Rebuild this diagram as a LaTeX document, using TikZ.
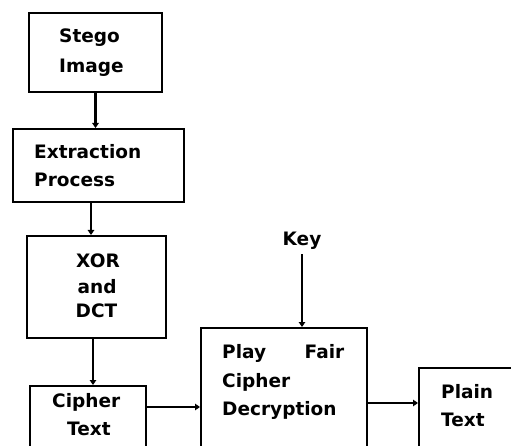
\documentclass[tikz,border=0pt]{standalone}
\usepackage{fontspec}
\setmainfont{DejaVu Sans}
\usetikzlibrary{arrows.meta,calc}

\tikzset{
  box/.style={draw=black, line width=2bp, fill=white, inner sep=0pt},
  txt/.style={anchor=base west, inner sep=0pt, font=\fontsize{18.5bp}{22bp}\selectfont\bfseries},
  arr/.style={draw=black, line width=2.6bp, -{Triangle[length=5bp,width=6.5bp]}},
}

\begin{document}
\begin{tikzpicture}[x=1bp,y=-1bp]
  \useasboundingbox (0,0) rectangle (511,446);
  \clip (0,0) rectangle (511,446);
  \fill[white] (0,0) rectangle (511,446);

  % processing blocks
  \node[box, minimum width=133bp, minimum height=79bp]  (stego)   at (95.5,52.5) {};
  \node[box, minimum width=171bp, minimum height=73bp]  (extract) at (98.5,165.5) {};
  \node[box, minimum width=139bp, minimum height=102bp] (xor)     at (96.5,287) {};
  \node[box, minimum width=116bp, minimum height=84bp]  (cipher)  at (88,428) {};
  \node[box, minimum width=166bp, minimum height=142bp] (play)    at (284,399) {};
  \node[box, minimum width=112bp, minimum height=102bp] (plain)   at (475,419) {};

  % block labels
  \node[txt] (t1) at (59,43) {Stego};
  \node[txt] (t2) at (59,73) {Image};
  \node[txt] (t3) at (34,159) {Extraction};
  \node[txt] (t4) at (34,187) {Process};
  \node[txt] (t5) at (76,267) {XOR};
  \node[txt] (t6) at (77.5,293) {and};
  \node[txt] (t7) at (75.5,317) {DCT};
  \node[txt] (t8) at (52,407) {Cipher};
  \node[txt] (t9) at (67,435) {Text};
  \node[txt] (t10) at (222,358) {\makebox[122bp][s]{Play\hfill Fair}};
  \node[txt] (t11) at (222,387) {Cipher};
  \node[txt] (t12) at (222,415) {Decryption};
  \node[txt] (t13) at (441,398) {Plain};
  \node[txt] (t14) at (441,426) {Text};
  \node[txt, anchor=base] (key) at (302,246) {Key};

  % connector end points
  \coordinate (ypd) at (0,403);

  % connectors
  \draw[arr] (stego.south) -- (stego.south |- extract.north);
  \draw[arr] ([xshift=-7.5bp]extract.south) -- ([xshift=-7.5bp]extract.south |- xor.north);
  \draw[arr] ([xshift=-3.5bp]xor.south) -- ([xshift=-3.5bp]xor.south |- cipher.north);
  \draw[arr] ([yshift=21bp]cipher.east) -- ([yshift=21bp]cipher.east -| play.west);
  \draw[arr] ([yshift=-4bp]key.south) -- (key.south |- play.north);
  \draw[arr] (play.east |- ypd) -- (plain.west |- ypd);
\end{tikzpicture}
\end{document}
